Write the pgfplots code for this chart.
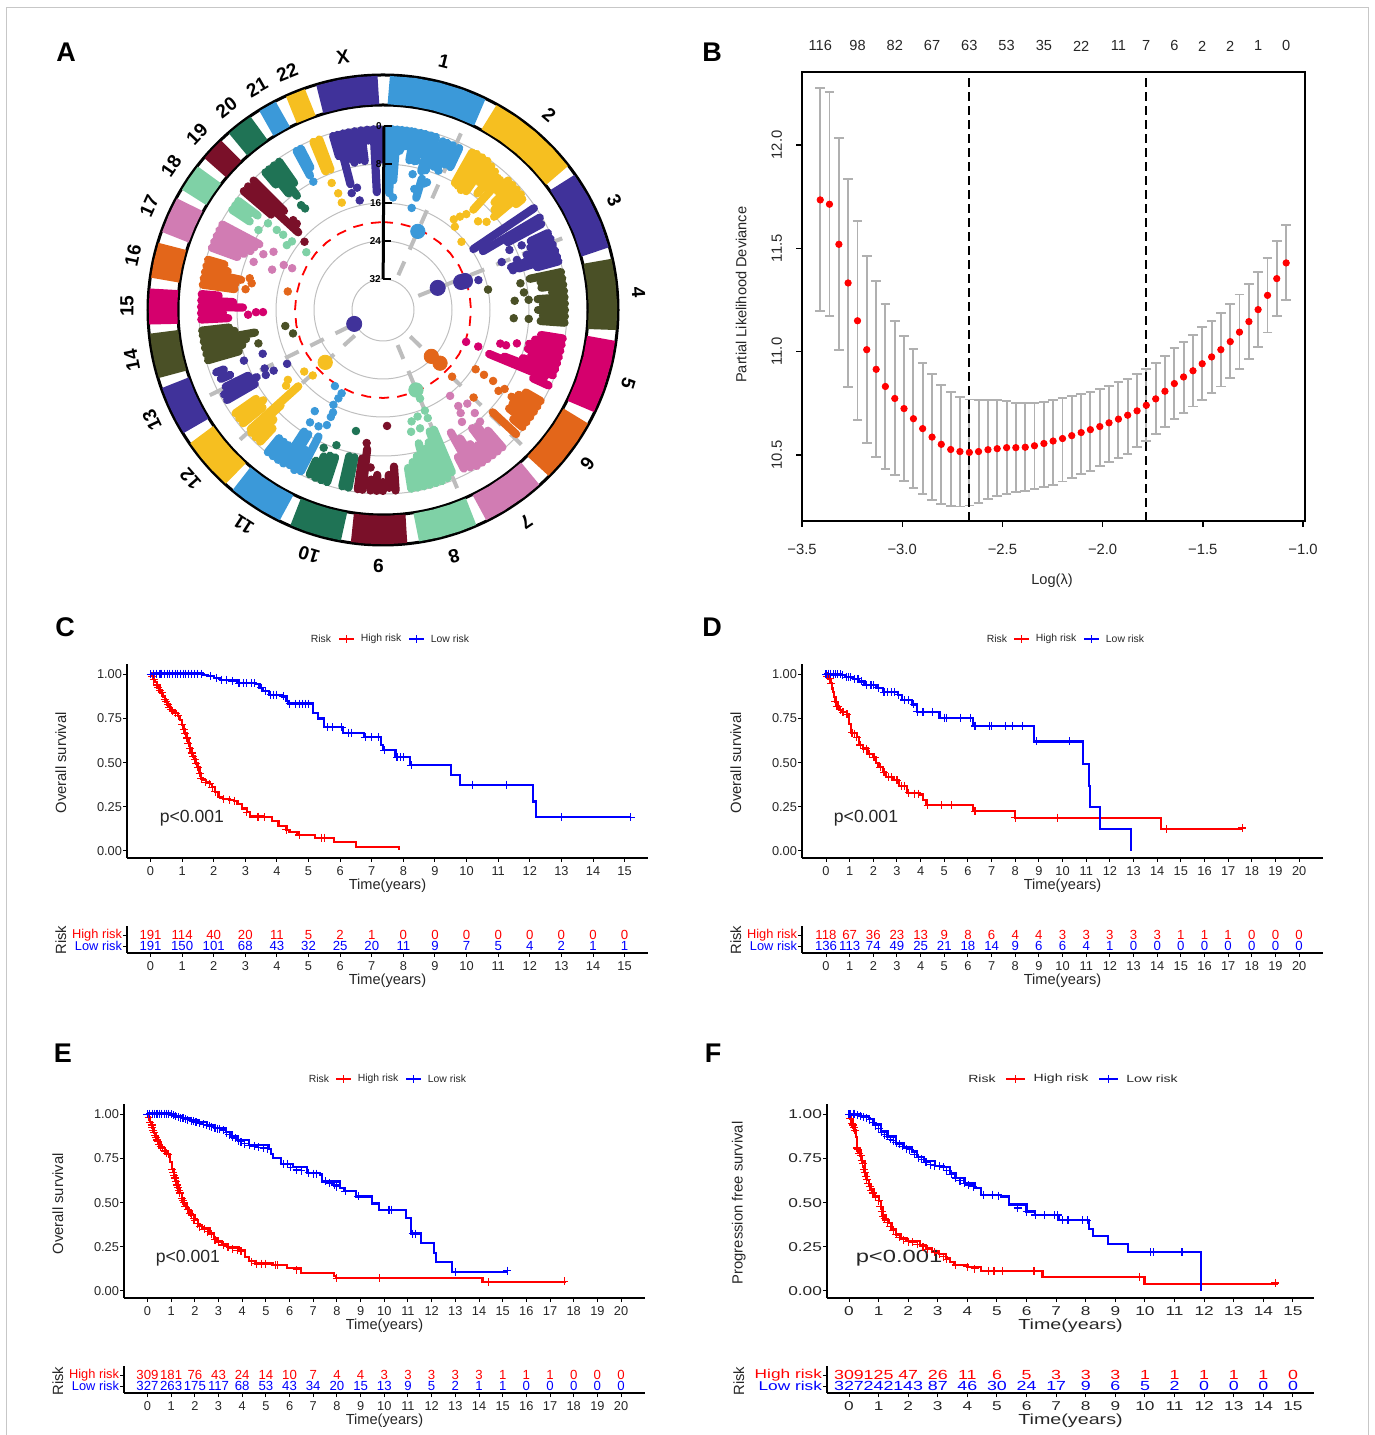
\documentclass[border=0pt]{standalone}
\usepackage{fontspec}
\usepackage{pgfplots}
\usepgfplotslibrary{polar}
\pgfplotsset{compat=1.18}
\setmainfont{Liberation Sans}
\newfontfamily\wide[FakeStretch=1.35]{Liberation Sans}
\definecolor{cbl}{HTML}{3B99D9}\definecolor{cye}{HTML}{F6BF20}\definecolor{cpu}{HTML}{40329A}
\definecolor{col}{HTML}{4A5026}\definecolor{cma}{HTML}{D5006D}\definecolor{cor}{HTML}{E3661A}
\definecolor{cpi}{HTML}{D17CB3}\definecolor{cmi}{HTML}{7FD1A6}\definecolor{cmr}{HTML}{7A1029}
\definecolor{cdg}{HTML}{1F7355}\definecolor{cgr}{HTML}{BDBDBD}\definecolor{ebar}{HTML}{B0B0B0}
\def\pf{}
\pgfplotsset{
 km/.style={scale only axis,axis lines*=left,axis line style={-,line width=1pt},tick align=outside,
  major tick length=2pt,tick style={black,line width=.5pt},clip=false,
  /pgf/number format/assume math mode=true,
  tick label style={font=\pf\fontsize{6.4}{8}\selectfont,text=black!85},
  xticklabel style={yshift=1.3pt},yticklabel style={xshift=3pt}},
 main/.style={km,height=97pt,ymin=-0.04,ymax=1.059,ytick={0,0.25,0.5,0.75,1},
  yticklabel style={/pgf/number format/fixed,/pgf/number format/fixed zerofill,/pgf/number format/precision=2}},
 risk/.style={km,height=13.5pt,ymin=0.364,ymax=2.82,ytick={1,2},
  yticklabels={\textcolor{blue}{Low risk},\textcolor{red}{High risk}}},
 labx/.style={every axis x label/.style={at={(axis description cs:0.5,#1)},anchor=center,font=\pf\fontsize{7.3}{9}\selectfont,text=black!85}},
 laby/.style={every axis y label/.style={at={(axis description cs:#1)},rotate=90,anchor=center,font=\fontsize{7.4}{9}\selectfont,text=black!85}},
}
\newcommand{\kmplot}[3]{%
 \addplot[#1,const plot,line width=1.1pt,forget plot] coordinates {#2};
 \addplot[#1,only marks,mark=+,mark size=2pt,mark options={line width=.55pt},forget plot] coordinates {#3};}
\newcommand{\rowplot}[2]{%
 \addplot[only marks,mark=none,nodes near coords,point meta=explicit symbolic,
  nodes near coords style={anchor=center,inner sep=0pt,font=\pf\fontsize{6.6}{8}\selectfont,text=#1}] coordinates {#2};}
% legend: offsets from the axis's left edge, in pt (Risk, line 1 from/mid/to, High risk, line 2 from/mid/to, Low risk)
\newcommand{\legendrisk}[9]{%
 \node[font=\pf\fontsize{5.2}{6}\selectfont,text=black!85] at ([xshift=#1pt]rel axis cs:0,1.128) {Risk};
 \draw[draw=red,line width=.9pt] ([xshift=#2pt]rel axis cs:0,1.128)--([xshift=#4pt]rel axis cs:0,1.128);
 \draw[draw=red,line width=.6pt] ([xshift=#3pt,yshift=-1.9pt]rel axis cs:0,1.128)--([xshift=#3pt,yshift=1.9pt]rel axis cs:0,1.128);
 \node[font=\pf\fontsize{5.2}{6}\selectfont,text=black!85] at ([xshift=#5pt]rel axis cs:0,1.128) {High risk};
 \draw[draw=blue,line width=.9pt] ([xshift=#6pt]rel axis cs:0,1.128)--([xshift=#8pt]rel axis cs:0,1.128);
 \draw[draw=blue,line width=.6pt] ([xshift=#7pt,yshift=-1.9pt]rel axis cs:0,1.128)--([xshift=#7pt,yshift=1.9pt]rel axis cs:0,1.128);
 \node[font=\pf\fontsize{5.2}{6}\selectfont,text=black!85] at ([xshift=#9pt]rel axis cs:0,1.128) {Low risk};}
\newcommand{\chrom}[3]{%
 \foreach \t/\a/\b in {#2} {\edef\temp{\noexpand\addplot[#1,line width=4.1pt,line cap=round] coordinates {(\t,\a)(\t,\b)};}\temp}
 \addplot[only marks,mark=*,mark size=1.9pt,#1,mark options={fill=#1,draw=#1}] coordinates {#3};}
\newcommand{\ring}[2]{\addplot[#1,line width=14.2pt] coordinates {#2};}
\newcommand{\chrlab}[2]{\node[rotate=-#1,font=\bfseries\fontsize{9.5}{10}\selectfont] at (axis cs:#1,256) {#2};}
\newcommand{\gline}[1]{\addplot[cgr,line width=2pt,dash pattern=on 7.5pt off 6.5pt] coordinates {(#1,38)(#1,200)};}
\newcommand{\gc}[1]{\draw[black!25,line width=.5pt] (axis cs:0,0) circle[radius=#1pt];}
\newcommand{\vt}[2]{\draw[black,line width=1pt] (axis cs:0.3,#1) -- ++(4pt,0);
 \node[left,inner sep=1pt,font=\bfseries\fontsize{5}{6}\selectfont] at (axis cs:0.3,#1) {#2};}
\begin{document}
\begin{tikzpicture}
\path[use as bounding box] (0,0) rectangle (687.5pt,717.5pt);
\draw[black!22,line width=.5pt] (3pt,0)--(3pt,713.5pt)--(684pt,713.5pt)--(684pt,0);
\foreach \x/\y/\l in {33/691.5/A,356/691.5/B,32.5/404/C,356/404/D,31.5/191/E,356.5/191/F}
 {\node[font=\bfseries\fontsize{13.5}{14}\selectfont] at (\x pt,\y pt) {\l};}

% ---------- A
\begin{polaraxis}[at={(191.5pt,562.5pt)},anchor=center,scale only axis,width=240pt,height=240pt,ymin=0,ymax=240,
 hide axis,clip=false,x coord trafo/.code={\pgfmathparse{90-#1}}]
\draw[black,line width=1.5pt] (axis cs:0,0) circle[radius=117.5pt];
\draw[black,line width=1.5pt] (axis cs:0,0) circle[radius=102.5pt];
\gc{15.5}\gc{34.5}\gc{53.5}\gc{73}\gc{92}
\ring{cbl}{(1.5,220)(8,220)(14,220)(20,220)(26.1,220)}
\ring{cye}{(28.8,220)(34.7,220)(40.5,220)(46.4,220)(52.3,220)}
\ring{cpu}{(54.6,220)(61,220)(68,220)(74.7,220)}
\ring{col}{(77.2,220)(83,220)(89,220)(95.1,220)}
\ring{cma}{(97.4,220)(103,220)(110,220)(116,220)}
\ring{cor}{(118.8,220)(124,220)(130,220)(135.2,220)}
\ring{cpi}{(138,220)(143,220)(149,220)(154,220)}
\ring{cmi}{(156.4,220)(161,220)(166,220)(171.3,220)}
\ring{cmr}{(173.9,220)(179,220)(184,220)(188,220)}
\ring{cdg}{(190.2,220)(195,220)(199,220)(203.4,220)}
\ring{cbl}{(206,220)(211,220)(216,220)(220,220)}
\ring{cye}{(222,220)(227,220)(231,220)(235.5,220)}
\ring{cpu}{(238.2,220)(242,220)(246,220)(250.7,220)}
\ring{col}{(253,220)(257,220)(261,220)(264.3,220)}
\ring{cma}{(266.3,220)(271,220)(275.4,220)}
\ring{cor}{(277.8,220)(282,220)(286.8,220)}
\ring{cpi}{(289.3,220)(294,220)(298.6,220)}
\ring{cmi}{(300.8,220)(304,220)(307.9,220)}
\ring{cmr}{(310.3,220)(313,220)(316.4,220)}
\ring{cdg}{(318.8,220)(322,220)(325.7,220)}
\ring{cbl}{(328,220)(332.9,220)}
\ring{cye}{(335.4,220)(340.7,220)}
\ring{cpu}{(343.3,220)(349,220)(354,220)(358.8,220)}
\gline{23.8}\gline{68.2}\gline{134.2}\gline{157.4}\gline{227.8}\gline{243.8}
\chrom{cbl}{1.5/181/122,3/181/117,4.5/181/130,6/181/160,7.5/181/165,9/181/165,10/181/152,12/181/152,13.5/181/160,15.4/181/144,17/181/146,19.5/179/152,21/179/152,23/179/158,25.2/179/158,16.5/137/117}{(9.8,165)(12.7,153)(12.3,139)(21.7,150)(15.7,106)(5.1,113)(18,133)(14.5,125)(19,135)}
\chrom{cye}{29.5/181/146,31/182/145,33/182/143,35/182/145,37/180/160,39/178/150,41/175/160,42/175/135,44/180/165,46/180/155,48/180/150,50/180/145,51.5/178/170}{(39.5,121)(40.8,110)(41,127)(49.6,136)(47,130)(49,104)(38,115)}
\chrom{cpu}{56/182/109,59.5/182/116,61.5/180/142,65/182/163,67/182/160,69/182/158,71/182/152,73/182/142,74.5/182/160,71.5/155/135}{(73,136)(68,128)(69,154)(65,153)(64.6,140)(69.5,143)(74,160)(72.6,100)}
\chrom{col}{78/182/150,80/182/160,82/182/160,84/182/170,86/182/155,88/182/160,90/182/155,92/182/160,94/182/158}{(79,140)(82.9,142)(86,132)(86,146)(79,107)(93.6,131)(93.5,146)}
\chrom{cma}{99/182/160,101/182/155,103/182/150,105/182/150,107/182/155,109/182/148,111/182/130,112.5/175/115,114.5/182/165}{(106,122)(106,128)(111,102)(111,89)(104,138)}
\chrom{cor}{120/182/165,122/182/160,124/182/155,126/182/160,128/182/160,130/182/170,133/182/150}{(134,126)(125,141)(122.8,131)(123,145)(122.7,120)(122.6,110)(134,96)}
\chrom{cpi}{139/182/160,141/182/150,143/182/148,145/182/165,147/182/160,149/182/150,151/180/140,153/178/165}{(142,109)(138,126)(141.9,122)(143,129)(144.8,137)(138.3,138)(139,148)}
\chrom{cmi}{157/176/130,159/180/130,161/181/140,163/181/145,165/181/138,167/181/150,169/181/155,171/181/160}{(165.6,115)(162,112)(162.6,124)(167,125)(157.4,109)(157.5,117)(157.3,96)}
\chrom{cmr}{176/181/157,178/178/165,180/181/172,182/181/165,184/181/170,186.5/181/140,188/181/150}{(178,116)(187,134)(184.5,158)}
\chrom{cdg}{191/181/150,193/181/150,198/181/155,200/181/155,202/181/158,204/180/165}{(199,143)(203.3,150)(192.6,124)}
\chrom{cbl}{207/181/142,209/183/160,211/181/145,213/183/145,215/183/165,217/183/165,219/183/165}{(213,134)(209,133)(206,128)(214,122)(206,119)(206,114)(207.6,107)(206.8,99)(206.4,93)(212.3,90)}
\chrom{cye}{223/180/162,225/180/155,227/180/140,228/178/114,231/180/155,233/180/150,235/180/155}{(232,100)(227,96)(232,123)(233.7,118)}
\chrom{cpu}{240/180/148,242/180/143,244/175/150,249.5/178/170,247/176/166}{(243.7,132)(241,125)(241,134)(250,148)(250,128)(240.7,110)}
\chrom{col}{254/182/150,256/182/145,258/182/140,260/182/130,262/182/150,263.5/182/155}{(255.4,93)(260.7,99)(255,129)}
\chrom{cma}{267/182/155,269/182/160,271/182/140,273/182/150,275/182/165}{(269,120)(269,127)(268,135)}
\chrom{cor}{278/182/150,280/182/150,282/182/145,284/182/160,286/182/165}{(281.5,134)(283.4,137)(278.6,139)(281,97)}
\chrom{cpi}{290/182/155,292/182/150,294/182/145,296/182/143,298/182/140}{(295,132)(298,124)(290.4,138)(290,118)(294.4,109)(294.7,100)}
\chrom{cmi}{303.6/181/160,305.3/181/165,307/181/157}{(307,144)(307,133)(307,125)(302.7,148)(307,114)(304,116)(307,96)}
\chrom{cmr}{310.5/183/147,312.5/183/115,315/183/140}{(311,104)(315,127)(315,122)}
\chrom{cdg}{319.5/181/165,321/181/150,323/181/143,325/181/155}{(322,133)(322.5,128)}
\chrom{cbl}{331.5/181/153,333/181/160}{(331.5,146)}
\chrom{cye}{337.5/182/150,339.5/182/150}{(338,137)(339,125)(339,115)}
\chrom{cpu}{344/181/160,345.5/181/130,347.3/181/155,349/181/150,351/181/152,353/181/150,355/181/170,357/181/118,358.8/181/150}{(348,112)(345,121)(348,125)}
\addplot[red,line width=.9pt,dash pattern=on 5pt off 4pt] coordinates {(0,88)(10,88)(20,88)(30,88)(40,88)(50,88)(60,88)(70,88)(80,88)(90,88)(100,88)(110,88)(120,88)(130,88)(140,88)(150,88)(160,88)(170,88)(180,88)(190,88)(200,88)(210,88)(220,88)(230,88)(240,88)(250,88)(260,88)(270,88)(280,88)(290,88)(300,88)(310,88)(320,88)(330,88)(340,88)(350,88)(360,88)};
\addplot[only marks,mark=*,mark size=3.6pt,cbl] coordinates {(23.9,86)};
\addplot[only marks,mark=*,mark size=3.8pt,cpu] coordinates {(68,59)(70.3,83)(70.5,87)(244.2,32)};
\addplot[only marks,mark=*,mark size=3.6pt,cor] coordinates {(133.8,67)(133,78)};
\addplot[only marks,mark=*,mark size=3.6pt,cmi] coordinates {(157.6,86.5)};
\addplot[only marks,mark=*,mark size=3.6pt,cye] coordinates {(227.8,78)};
\addplot[black,line width=1.5pt] coordinates {(0.3,31)(0.3,184)};
\vt{184}{0}\vt{146}{8}\vt{107}{16}\vt{69}{24}\vt{31}{32}
\chrlab{13.8}{1}\chrlab{40.5}{2}\chrlab{64.6}{3}\chrlab{86.1}{4}\chrlab{106.7}{5}\chrlab{127}{6}
\chrlab{146}{7}\chrlab{163.9}{8}\chrlab{181}{9}\chrlab{196.8}{10}\chrlab{213}{11}\chrlab{228.8}{12}
\chrlab{244.5}{13}\chrlab{258.7}{14}\chrlab{270.9}{15}\chrlab{282.3}{16}\chrlab{294}{17}\chrlab{304.2}{18}
\chrlab{313.4}{19}\chrlab{322.3}{20}\chrlab{330.5}{21}\chrlab{338}{22}\chrlab{351}{X}
\end{polaraxis}

% ---------- B
\begin{axis}[at={(401pt,457pt)},anchor=south west,scale only axis,width=251.5pt,height=224.5pt,
 xmin=-3.5,xmax=-0.99,ymin=10.18,ymax=12.353,clip=false,axis line style={line width=1pt},
 tick align=outside,xtick pos=bottom,ytick pos=left,major tick length=3pt,tick style={black,line width=.7pt},
 xtick={-3.5,-3,-2.5,-2,-1.5,-1},xticklabels={−3.5,−3.0,−2.5,−2.0,−1.5,−1.0},
 ytick={10.5,11,11.5,12},yticklabels={10.5,11.0,11.5,12.0},
 tick label style={font=\fontsize{7.4}{8}\selectfont,text=black!85},
 yticklabel style={rotate=90,anchor=south,yshift=3.5pt},
 xticklabel style={yshift=-5.2pt},
 every axis x label/.style={at={(axis description cs:0.497,-0.1335)},anchor=center,font=\fontsize{7.3}{8}\selectfont,text=black!85},
 every axis y label/.style={at={(axis description cs:-0.121,0.504)},rotate=90,anchor=center,font=\fontsize{7.3}{8}\selectfont,text=black!85},
 xlabel={Log(λ)},ylabel={Partial Likelihood Deviance}]
\addplot[draw=none,mark=none,forget plot,error bars/.cd,y dir=both,y explicit,error bar style={ebar,line width=.95pt},
 error mark options={rotate=90,ebar,mark size=2.4pt,line width=.95pt}]
 table[x=t,y=m,y error plus expr=\thisrow{h}-\thisrow{m},y error minus expr=\thisrow{m}-\thisrow{l}] {
t m h l
-3.409 11.734 12.275 11.195
-3.363 11.713 12.254 11.172
-3.316 11.519 12.034 11.006
-3.270 11.332 11.836 10.830
-3.223 11.149 11.632 10.667
-3.177 11.009 11.462 10.556
-3.130 10.914 11.341 10.489
-3.084 10.831 11.232 10.433
-3.037 10.773 11.147 10.401
-2.991 10.724 11.076 10.373
-2.944 10.675 11.011 10.341
-2.898 10.627 10.946 10.310
-2.851 10.586 10.890 10.283
-2.805 10.551 10.840 10.264
-2.758 10.526 10.803 10.251
-2.712 10.516 10.782 10.250
-2.665 10.512 10.768 10.255
-2.619 10.516 10.764 10.269
-2.572 10.525 10.764 10.287
-2.526 10.530 10.764 10.301
-2.479 10.535 10.759 10.311
-2.433 10.535 10.752 10.320
-2.386 10.537 10.750 10.327
-2.340 10.544 10.752 10.334
-2.293 10.555 10.757 10.343
-2.247 10.567 10.766 10.355
-2.200 10.579 10.775 10.371
-2.154 10.593 10.784 10.389
-2.107 10.608 10.794 10.407
-2.061 10.622 10.805 10.424
-2.014 10.637 10.819 10.444
-1.968 10.655 10.833 10.465
-1.921 10.673 10.851 10.484
-1.875 10.692 10.868 10.505
-1.828 10.713 10.891 10.537
-1.782 10.740 10.916 10.569
-1.735 10.771 10.946 10.599
-1.689 10.808 10.979 10.636
-1.642 10.845 11.016 10.673
-1.596 10.877 11.048 10.704
-1.549 10.907 11.082 10.734
-1.503 10.941 11.117 10.764
-1.456 10.974 11.150 10.798
-1.410 11.009 11.187 10.831
-1.363 11.048 11.230 10.870
-1.317 11.094 11.276 10.914
-1.270 11.145 11.327 10.965
-1.224 11.203 11.385 11.024
-1.177 11.272 11.452 11.092
-1.131 11.353 11.535 11.173
-1.084 11.429 11.612 11.249
};
\addplot[only marks,mark=*,mark size=1.6pt,red,draw=red,fill=red,mark options={solid,fill=red,draw=red}] table[x=t,y=m] {
t m
-3.409 11.734
-3.363 11.713
-3.316 11.519
-3.270 11.332
-3.223 11.149
-3.177 11.009
-3.130 10.914
-3.084 10.831
-3.037 10.773
-2.991 10.724
-2.944 10.675
-2.898 10.627
-2.851 10.586
-2.805 10.551
-2.758 10.526
-2.712 10.516
-2.665 10.512
-2.619 10.516
-2.572 10.525
-2.526 10.530
-2.479 10.535
-2.433 10.535
-2.386 10.537
-2.340 10.544
-2.293 10.555
-2.247 10.567
-2.200 10.579
-2.154 10.593
-2.107 10.608
-2.061 10.622
-2.014 10.637
-1.968 10.655
-1.921 10.673
-1.875 10.692
-1.828 10.713
-1.782 10.740
-1.735 10.771
-1.689 10.808
-1.642 10.845
-1.596 10.877
-1.549 10.907
-1.503 10.941
-1.456 10.974
-1.410 11.009
-1.363 11.048
-1.317 11.094
-1.270 11.145
-1.224 11.203
-1.177 11.272
-1.131 11.353
-1.084 11.429
};
\addplot[black,line width=1pt,dash pattern=on 4.5pt off 2.5pt] coordinates {(-2.665,10.18)(-2.665,12.353)};
\addplot[black,line width=1pt,dash pattern=on 4.5pt off 2.5pt] coordinates {(-1.782,10.18)(-1.782,12.353)};
\addplot[only marks,mark=none,nodes near coords,point meta=explicit symbolic,
 nodes near coords style={anchor=center,inner sep=0pt,font=\fontsize{7.3}{8}\selectfont,text=black!85}] coordinates
 {(-3.409,12.479)[116](-3.223,12.479)[98](-3.037,12.479)[82](-2.851,12.479)[67](-2.665,12.479)[63](-2.479,12.479)[53](-2.293,12.479)[35](-2.107,12.479)[22](-1.921,12.479)[11](-1.782,12.479)[7](-1.642,12.479)[6](-1.503,12.479)[2](-1.363,12.479)[2](-1.224,12.479)[1](-1.084,12.479)[0]};
\end{axis}

% ---------- C
\begin{axis}[main,at={(63.5pt,288.5pt)},anchor=south west,width=260.5pt,xmin=-0.744,xmax=15.74,xtick={0,1,...,15},
 labx=-0.145,laby={-0.127,0.49},xlabel={Time(years)},ylabel={Overall survival}]
\legendrisk{97}{106}{109.75}{113.5}{127}{141}{144.75}{148.5}{161.5}
\kmplot{red}{(0,1)(.05,.99)(.1,.97)(.15,.955)(.2,.94)(.25,.925)(.3,.91)(.35,.895)(.4,.875)(.45,.86)(.5,.845)(.55,.83)(.6,.815)(.65,.80)(.7,.79)(.8,.78)(.88,.765)(.93,.74)(1,.715)(1.05,.69)(1.1,.665)(1.15,.64)(1.2,.61)(1.25,.58)(1.3,.555)(1.35,.535)(1.4,.52)(1.45,.495)(1.5,.475)(1.55,.44)(1.6,.41)(1.65,.40)(1.75,.39)(1.88,.38)(1.95,.36)(2.05,.335)(2.15,.305)(2.3,.295)(2.5,.29)(2.65,.285)(2.75,.265)(2.9,.24)(3.05,.22)(3.15,.195)(3.6,.19)(3.85,.17)(4.05,.14)(4.3,.12)(4.4,.105)(4.65,.09)(5.2,.075)(5.8,.05)(6.5,.023)(7.86,.005)}
{(.05,.99)(.1,.97)(.2,.94)(.25,.925)(.3,.91)(.35,.895)(.45,.86)(.5,.845)(.55,.83)(.6,.815)(.65,.80)(.7,.79)(.8,.78)(.88,.765)(1,.715)(1.05,.69)(1.1,.665)(1.15,.64)(1.2,.61)(1.25,.58)(1.3,.555)(1.35,.535)(1.4,.52)(1.45,.495)(1.5,.475)(1.55,.44)(1.6,.41)(1.75,.39)(1.88,.38)(1.95,.36)(2.05,.335)(2.3,.295)(2.5,.29)(2.65,.285)(3.05,.22)(3.4,.195)(3.6,.19)(4.3,.12)(4.7,.09)(5.4,.075)(5.5,.075)}
\kmplot{blue}{(0,1.005)(1.65,.995)(1.8,.99)(2.0,.98)(2.2,.97)(2.5,.965)(2.75,.95)(3.35,.945)(3.45,.925)(3.55,.905)(3.75,.885)(4.15,.875)(4.3,.85)(4.35,.835)(5.15,.78)(5.3,.75)(5.5,.70)(6.1,.67)(6.75,.645)(7.3,.6)(7.35,.57)(7.75,.53)(8.2,.485)(9.5,.43)(9.8,.375)(12.1,.28)(12.2,.19)(15.2,.19)}
{(0,1)(.1,1.005)(.2,1.005)(.3,1.005)(.35,1.005)(.45,1.005)(.55,1.005)(.6,1.005)(.7,1.005)(.8,1.005)(.85,1.005)(.95,1.005)(1.05,1.005)(1.1,1.005)(1.2,1.005)(1.3,1.005)(1.4,1.005)(1.5,1.005)(1.6,1.005)(1.9,.99)(2.1,.98)(2.25,.97)(2.4,.97)(2.6,.965)(2.8,.95)(2.95,.95)(3.05,.95)(3.2,.95)(3.3,.95)(3.5,.925)(3.65,.905)(3.8,.885)(3.9,.885)(4.0,.885)(4.2,.875)(4.4,.835)(4.6,.835)(4.7,.835)(4.8,.835)(4.9,.835)(5.0,.835)(5.6,.70)(5.75,.70)(6.05,.70)(6.25,.67)(6.35,.67)(6.8,.645)(7.0,.645)(7.2,.645)(7.4,.57)(7.8,.53)(7.9,.53)(8.0,.53)(8.25,.485)(10.2,.375)(11.25,.375)(13,.19)(15.2,.19)}
\node[font=\fontsize{8.8}{10}\selectfont,text=black!85] at (axis cs:1.31,.187) {p<0.001};
\end{axis}
\begin{axis}[risk,at={(63.5pt,241pt)},anchor=south west,width=260.5pt,xmin=-0.744,xmax=15.74,xtick={0,1,...,15},
 labx=-1.03,laby={-0.127,0.48},xlabel={Time(years)},ylabel={Risk}]
\rowplot{red}{(0,2)[191](1,2)[114](2,2)[40](3,2)[20](4,2)[11](5,2)[5](6,2)[2](7,2)[1](8,2)[0](9,2)[0](10,2)[0](11,2)[0](12,2)[0](13,2)[0](14,2)[0](15,2)[0]}
\rowplot{blue}{(0,1)[191](1,1)[150](2,1)[101](3,1)[68](4,1)[43](5,1)[32](6,1)[25](7,1)[20](8,1)[11](9,1)[9](10,1)[7](11,1)[5](12,1)[4](13,1)[2](14,1)[1](15,1)[1]}
\end{axis}

% ---------- D
\begin{axis}[main,at={(401pt,288.5pt)},anchor=south west,width=260.5pt,xmin=-1.015,xmax=21.01,xtick={0,1,...,20},
 labx=-0.145,laby={-0.127,0.49},xlabel={Time(years)},ylabel={Overall survival}]
\legendrisk{97.5}{106}{109.75}{113.5}{127}{141}{144.75}{148.5}{161.5}
\kmplot{red}{(0,.99)(.1,.975)(.2,.95)(.25,.92)(.3,.90)(.35,.87)(.4,.845)(.5,.82)(.55,.80)(.65,.785)(.9,.775)(.97,.72)(1.05,.67)(1.3,.645)(1.4,.60)(1.55,.58)(1.75,.55)(1.97,.53)(2.1,.50)(2.22,.475)(2.4,.445)(2.55,.42)(2.85,.40)(3.1,.37)(3.42,.33)(3.95,.32)(4.1,.29)(4.25,.258)(6.23,.225)(7.98,.188)(14.17,.123)(17.6,.123)}
{(.05,.99)(.15,.975)(.22,.95)(.4,.845)(.45,.82)(.5,.82)(.6,.80)(.7,.785)(.75,.785)(.85,.775)(.9,.775)(1.1,.67)(1.2,.665)(1.3,.645)(1.45,.60)(1.6,.58)(1.7,.58)(1.85,.55)(2.0,.53)(2.05,.53)(2.3,.475)(2.45,.445)(2.65,.42)(2.75,.42)(3,.40)(3.2,.37)(3.3,.37)(3.5,.33)(3.75,.325)(3.9,.325)(4.3,.258)(4.9,.258)(5.3,.258)(6.3,.225)(8,.188)(9.8,.188)(14.4,.123)(17.6,.13)}
\kmplot{blue}{(0,1)(.63,.995)(.8,.985)(1.13,.975)(1.38,.96)(1.63,.94)(2.13,.925)(2.4,.90)(3.05,.885)(3.2,.855)(3.63,.83)(3.84,.788)(4.8,.755)(6.2,.708)(8.79,.62)(10.87,.493)(11.13,.37)(11.17,.248)(11.58,.123)(12.88,0)}
{(0,1)(.1,1.005)(.2,1.005)(.3,1)(.4,1)(.5,1)(.6,1)(.7,.995)(.85,.985)(.95,.985)(1.05,.985)(1.2,.975)(1.35,.975)(1.5,.96)(1.7,.94)(1.9,.94)(2,.94)(2.2,.925)(2.45,.90)(2.6,.90)(2.75,.90)(2.9,.90)(3.05,.885)(3.3,.855)(3.5,.855)(3.7,.83)(3.85,.788)(4.1,.788)(4.5,.788)(5.0,.755)(5.1,.755)(5.7,.755)(6.1,.755)(6.3,.708)(6.9,.708)(7.0,.708)(7.6,.708)(7.9,.708)(8.3,.708)(8.9,.62)(10.3,.62)}
\node[font=\fontsize{8.8}{10}\selectfont,text=black!85] at (axis cs:1.69,.187) {p<0.001};
\end{axis}
\begin{axis}[risk,at={(401pt,241pt)},anchor=south west,width=260.5pt,xmin=-1.015,xmax=21.01,xtick={0,1,...,20},
 labx=-1.03,laby={-0.127,0.48},xlabel={Time(years)},ylabel={Risk}]
\rowplot{red}{(0,2)[118](1,2)[67](2,2)[36](3,2)[23](4,2)[13](5,2)[9](6,2)[8](7,2)[6](8,2)[4](9,2)[4](10,2)[3](11,2)[3](12,2)[3](13,2)[3](14,2)[3](15,2)[1](16,2)[1](17,2)[1](18,2)[0](19,2)[0](20,2)[0]}
\rowplot{blue}{(0,1)[136](1,1)[113](2,1)[74](3,1)[49](4,1)[25](5,1)[21](6,1)[18](7,1)[14](8,1)[9](9,1)[6](10,1)[6](11,1)[4](12,1)[1](13,1)[0](14,1)[0](15,1)[0](16,1)[0](17,1)[0](18,1)[0](19,1)[0](20,1)[0]}
\end{axis}

% ---------- E
\begin{axis}[main,at={(62pt,68.5pt)},anchor=south west,width=260.5pt,xmin=-0.992,xmax=21.01,xtick={0,1,...,20},
 labx=-0.145,laby={-0.127,0.485},xlabel={Time(years)},ylabel={Overall survival}]
\legendrisk{97.5}{106}{109.75}{113.5}{127}{141}{144.75}{148.5}{161.5}
\kmplot{red}{(0,1)(.05,.985)(.12,.955)(.2,.925)(.28,.895)(.37,.87)(.45,.845)(.55,.82)(.62,.81)(.75,.79)(.87,.775)(.95,.73)(1.04,.69)(1.12,.655)(1.2,.62)(1.28,.585)(1.37,.555)(1.45,.525)(1.54,.50)(1.65,.47)(1.75,.45)(1.87,.43)(2,.40)(2.12,.375)(2.3,.355)(2.62,.33)(2.8,.30)(2.96,.28)(3.15,.265)(3.38,.25)(3.88,.23)(4.13,.19)(4.3,.17)(4.55,.155)(5.3,.145)(5.88,.13)(6.47,.10)(7.89,.085)(7.97,.073)(14.15,.05)(17.66,.05)}
{(.05,.985)(.12,.955)(.17,.94)(.2,.925)(.25,.91)(.28,.895)(.33,.88)(.37,.87)(.42,.855)(.45,.845)(.5,.83)(.55,.82)(.62,.81)(.7,.795)(.75,.79)(.82,.78)(.87,.775)(1.04,.69)(1.08,.67)(1.12,.655)(1.16,.64)(1.2,.62)(1.24,.60)(1.28,.585)(1.33,.57)(1.37,.555)(1.45,.525)(1.5,.51)(1.54,.50)(1.6,.48)(1.7,.46)(1.8,.44)(1.87,.43)(1.95,.41)(2,.40)(2.1,.38)(2.2,.365)(2.4,.35)(2.55,.335)(2.7,.32)(2.85,.29)(3,.275)(3.2,.26)(3.4,.25)(3.6,.24)(3.8,.23)(3.95,.225)(4.4,.165)(4.6,.155)(4.8,.155)(5.0,.155)(5.4,.145)(5.5,.145)(6.3,.12)(8,.073)(9.8,.073)(14.4,.05)(17.6,.055)}
\kmplot{blue}{(0,1.005)(.95,1.0)(1.2,.99)(1.45,.98)(1.8,.965)(2.12,.955)(2.5,.94)(2.8,.925)(3.1,.92)(3.3,.90)(3.55,.875)(3.8,.855)(4.3,.825)(5.13,.805)(5.2,.775)(5.3,.755)(5.63,.72)(6.13,.70)(6.72,.67)(7.3,.66)(7.38,.62)(8.14,.585)(8.3,.565)(8.8,.535)(9.47,.495)(9.77,.46)(10.9,.415)(11.14,.325)(11.56,.27)(12.1,.217)(12.2,.163)(12.87,.108)(15.24,.108)}
{(0,1)(.1,1.005)(.2,1.005)(.3,1.005)(.4,1.005)(.5,1.005)(.6,1.005)(.7,1.005)(.8,1.005)(.9,1.005)(1,1)(1.1,.995)(1.2,.99)(1.3,.985)(1.4,.98)(1.5,.98)(1.6,.975)(1.7,.97)(1.85,.965)(1.95,.96)(2.05,.955)(2.2,.95)(2.35,.945)(2.5,.94)(2.6,.935)(2.7,.93)(2.85,.925)(2.95,.92)(3.05,.92)(3.2,.91)(3.35,.895)(3.45,.885)(3.6,.87)(3.7,.865)(3.85,.85)(3.95,.845)(4.1,.835)(4.3,.825)(4.5,.82)(4.7,.815)(4.9,.81)(5.05,.805)(5.75,.72)(5.9,.72)(6.05,.70)(6.3,.685)(6.5,.68)(6.8,.67)(7,.665)(7.15,.665)(7.5,.62)(7.7,.61)(7.9,.60)(8,.59)(8.35,.565)(8.9,.535)(10.2,.46)(10.3,.46)(11.2,.325)(11.3,.325)(13,.108)(15.2,.115)}
\node[font=\fontsize{8.8}{10}\selectfont,text=black!85] at (axis cs:1.71,.188) {p<0.001};
\end{axis}
\begin{axis}[risk,at={(62pt,21pt)},anchor=south west,width=260.5pt,xmin=-0.992,xmax=21.01,xtick={0,1,...,20},
 labx=-1.03,laby={-0.127,0.44},xlabel={Time(years)},ylabel={Risk}]
\rowplot{red}{(0,2)[309](1,2)[181](2,2)[76](3,2)[43](4,2)[24](5,2)[14](6,2)[10](7,2)[7](8,2)[4](9,2)[4](10,2)[3](11,2)[3](12,2)[3](13,2)[3](14,2)[3](15,2)[1](16,2)[1](17,2)[1](18,2)[0](19,2)[0](20,2)[0]}
\rowplot{blue}{(0,1)[327](1,1)[263](2,1)[175](3,1)[117](4,1)[68](5,1)[53](6,1)[43](7,1)[34](8,1)[20](9,1)[15](10,1)[13](11,1)[9](12,1)[5](13,1)[2](14,1)[1](15,1)[1](16,1)[0](17,1)[0](18,1)[0](19,1)[0](20,1)[0]}
\end{axis}

% ---------- F
\def\pf{\wide}
\begin{axis}[main,at={(413.5pt,68.5pt)},anchor=south west,width=243.5pt,xmin=-0.743,xmax=15.71,xtick={0,1,...,15},
 labx=-0.145,laby={-0.181,0.49},xlabel={Time(years)},ylabel={Progression free survival}]
\legendrisk{77.5}{89.5}{94.25}{99}{117}{136}{140.75}{145.5}{162.5}
\kmplot{red}{(0,1)(.05,.975)(.07,.965)(.13,.94)(.2,.91)(.24,.87)(.27,.81)(.33,.79)(.4,.765)(.45,.73)(.53,.67)(.6,.63)(.67,.60)(.73,.575)(.85,.54)(1,.51)(1.07,.47)(1.13,.43)(1.25,.40)(1.34,.385)(1.45,.35)(1.6,.32)(1.75,.30)(1.94,.285)(2.4,.26)(2.6,.24)(2.8,.228)(3.05,.21)(3.27,.185)(3.4,.165)(3.54,.147)(4,.137)(4.47,.114)(6.54,.08)(9.98,.04)(14.5,.04)}
{(.05,.975)(.1,.95)(.13,.94)(.17,.925)(.2,.91)(.27,.81)(.3,.80)(.35,.78)(.4,.765)(.43,.74)(.47,.72)(.5,.69)(.53,.67)(.57,.65)(.6,.63)(.65,.61)(.7,.59)(.75,.57)(.8,.555)(.9,.53)(1,.51)(1.05,.48)(1.1,.45)(1.15,.42)(1.2,.41)(1.3,.39)(1.4,.365)(1.5,.34)(1.6,.32)(1.7,.305)(1.85,.29)(2,.28)(2.15,.275)(2.3,.265)(2.5,.25)(2.65,.235)(2.9,.22)(3.05,.21)(3.2,.195)(3.3,.18)(3.6,.147)(4,.137)(4.25,.125)(4.7,.114)(4.9,.114)(5.2,.114)(6.25,.114)(9.8,.08)(14.4,.045)}
\kmplot{blue}{(0,1)(.27,1)(.4,.99)(.67,.975)(.85,.945)(1.07,.905)(1.3,.875)(1.6,.84)(1.85,.815)(2.14,.79)(2.3,.76)(2.54,.735)(2.9,.71)(3.2,.70)(3.4,.67)(3.6,.64)(3.9,.61)(4.27,.585)(4.47,.545)(5.14,.535)(5.41,.49)(6,.45)(6.28,.43)(7.08,.40)(8.12,.35)(8.25,.31)(8.75,.265)(9.42,.22)(11.9,0)}
{(0,1)(.05,1)(.15,1.005)(.2,1.005)(.3,.995)(.4,.99)(.5,.985)(.6,.98)(.7,.97)(.8,.955)(.9,.935)(1,.92)(1.1,.90)(1.2,.885)(1.3,.875)(1.4,.86)(1.5,.85)(1.6,.84)(1.7,.83)(1.8,.82)(1.95,.805)(2.05,.80)(2.2,.775)(2.35,.755)(2.45,.745)(2.6,.73)(2.75,.715)(2.9,.71)(3.05,.705)(3.2,.70)(3.3,.68)(3.45,.66)(3.6,.64)(3.75,.625)(3.9,.61)(4.05,.60)(4.2,.59)(4.55,.545)(4.85,.545)(5.05,.54)(5.7,.47)(6,.45)(6.3,.43)(6.6,.43)(6.95,.43)(7.05,.43)(7.2,.40)(7.4,.40)(7.9,.40)(8.05,.40)(10.2,.22)(10.3,.22)(11.25,.22)}
\node[font=\pf\fontsize{8.8}{10}\selectfont,text=black!85] at (axis cs:1.69,.188) {p<0.001};
\end{axis}
\begin{axis}[risk,at={(413.5pt,21pt)},anchor=south west,width=243.5pt,xmin=-0.743,xmax=15.71,xtick={0,1,...,15},
 labx=-1.03,laby={-0.181,0.44},xlabel={Time(years)},ylabel={Risk}]
\rowplot{red}{(0,2)[309](1,2)[125](2,2)[47](3,2)[26](4,2)[11](5,2)[6](6,2)[5](7,2)[3](8,2)[3](9,2)[3](10,2)[1](11,2)[1](12,2)[1](13,2)[1](14,2)[1](15,2)[0]}
\rowplot{blue}{(0,1)[327](1,1)[242](2,1)[143](3,1)[87](4,1)[46](5,1)[30](6,1)[24](7,1)[17](8,1)[9](9,1)[6](10,1)[5](11,1)[2](12,1)[0](13,1)[0](14,1)[0](15,1)[0]}
\end{axis}
\end{tikzpicture}
\end{document}
